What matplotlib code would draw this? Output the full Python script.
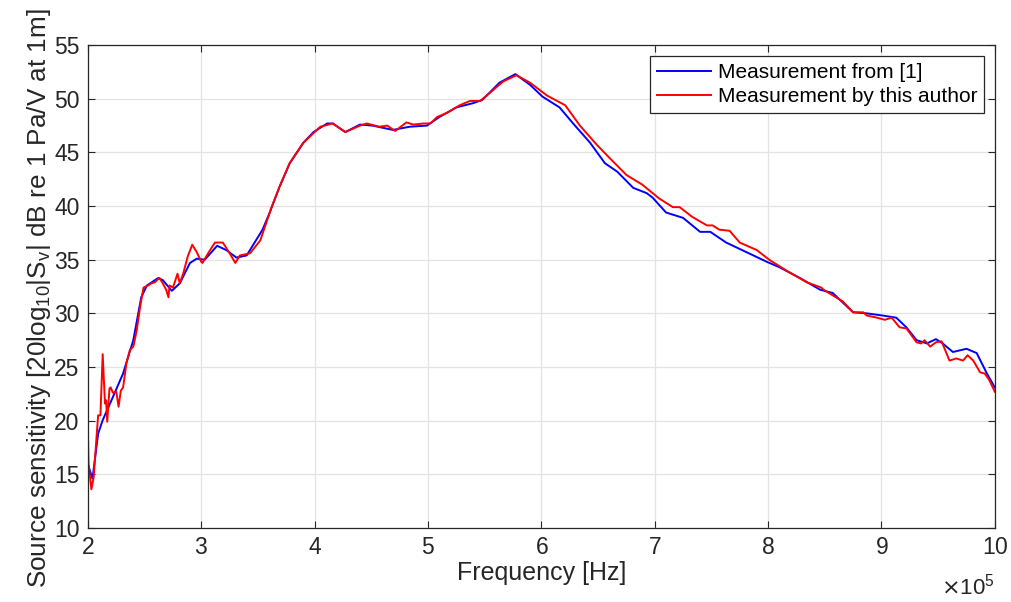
import numpy as np
import matplotlib
matplotlib.use("Agg")
import matplotlib.pyplot as plt

# frequency in kHz, sensitivity in dB
blue_f = [200, 204, 209, 213, 222, 231, 240, 247, 252, 262, 266, 274, 281, 290, 296,
          303, 314, 322, 331, 340, 354, 360, 369, 378, 390, 399, 411, 416, 427, 440,
          451, 469, 484, 499, 510, 525, 540, 548, 563, 577, 590, 601, 616, 628, 643,
          656, 667, 681, 693, 698, 710, 725, 740, 749, 763, 781, 799, 810, 828, 846,
          857, 875, 887, 901, 913, 922, 931, 940, 948, 954, 963, 975, 984, 993, 1000]
blue_v = [15.9, 14.6, 18.8, 20.05, 22.2, 24.4, 27.5, 31.5, 32.6, 33.3, 33.1, 32.1, 32.8, 34.7, 35.1,
          35.0, 36.3, 35.9, 35.2, 35.4, 37.8, 39.3, 41.8, 44.0, 45.9, 46.9, 47.7, 47.7, 46.9, 47.6,
          47.5, 47.1, 47.4, 47.5, 48.3, 49.2, 49.6, 49.9, 51.5, 52.3, 51.3, 50.2, 49.2, 47.7, 45.9,
          44.0, 43.2, 41.7, 41.2, 40.8, 39.4, 38.9, 37.6, 37.6, 36.6, 35.7, 34.8, 34.3, 33.3, 32.2,
          31.9, 30.1, 30.0, 29.8, 29.6, 28.7, 27.5, 27.2, 27.6, 27.2, 26.4, 26.7, 26.3, 24.4, 23.1]

red_f = [200, 200.5, 203, 205, 208, 209, 211, 213, 215, 216, 217, 219, 220, 222, 225,
         227, 229, 231, 234, 237, 240, 243, 246, 249, 253, 256, 259, 263, 266, 269,
         271, 272, 275, 279, 281, 284, 288, 292, 296, 300, 301, 306, 312, 319, 325,
         330, 334, 343, 352, 362, 369, 378, 390, 405,
         416, 427, 440, 446, 457, 464, 471, 481, 487, 496, 502, 508, 517, 528, 537, 546, 554, 566, 578,
         590, 605, 621, 634, 649, 660, 675, 689, 704, 716, 722, 733, 746, 751, 757, 766, 775, 790, 801,
         816, 834, 847, 849, 866, 875, 884, 887, 896, 903, 909, 916, 922, 931, 935, 938, 943, 948,
         953, 960, 966, 972, 976, 981, 987, 991, 995, 1000]
red_v = [18.7, 16.0, 13.6, 14.7, 19.1, 20.5, 20.5, 26.2, 21.6, 21.9, 19.9, 23.0, 23.1, 22.6, 22.7,
         21.3, 22.8, 23.1, 25.4, 26.6, 26.9, 28.4, 30.6, 32.4, 32.6, 32.8, 32.9, 33.3, 32.8, 32.2,
         31.5, 32.6, 32.4, 33.7, 32.8, 33.7, 35.3, 36.4, 35.7, 34.8, 34.7, 35.6, 36.6, 36.6, 35.6,
         34.7, 35.4, 35.6, 36.8, 39.9, 41.8, 44.0, 45.9, 47.4,
         47.7, 46.9, 47.5, 47.7, 47.4, 47.5, 47.0, 47.8, 47.6, 47.7, 47.7, 48.3, 48.7, 49.4, 49.8, 49.8, 50.5, 51.6, 52.2,
         51.5, 50.3, 49.4, 47.5, 45.7, 44.5, 42.9, 42.0, 40.7, 39.9, 39.9, 39.0, 38.2, 38.2, 37.8, 37.7, 36.6, 35.9, 35.0,
         34.0, 32.9, 32.4, 32.2, 31.1, 30.1, 30.1, 29.8, 29.6, 29.4, 29.6, 28.7, 28.6, 27.3, 27.2, 27.5, 26.9, 27.3,
         27.4, 25.6, 25.8, 25.6, 26.1, 25.6, 24.5, 24.4, 23.8, 22.7]

labels = ["Measurement from [1]", "Measurement by this author"]

plt.rcParams['font.family'] = ['Liberation Sans', 'DejaVu Sans']

fig = plt.figure(figsize=(10.11, 6.02), dpi=100)
ax = fig.add_axes([0.087, 0.123, 0.897, 0.802])

ax.plot(np.array(blue_f) * 1e3, blue_v, color='#0000ff', lw=1.4, label=labels[0])
ax.plot(np.array(red_f) * 1e3, red_v, color='#ff0000', lw=1.4, label=labels[1])

ax.set_xlim(2e5, 1e6)
ax.set_ylim(10, 55)
ax.set_xticks(np.arange(2e5, 1.01e6, 1e5))
ax.set_yticks(np.arange(10, 56, 5))
ax.ticklabel_format(axis='x', style='sci', scilimits=(5, 5), useMathText=True)
ax.xaxis.get_offset_text().set_fontsize(16)
ax.xaxis.get_offset_text().set_color('#262626')
ax.xaxis.OFFSETTEXTPAD = 10

ax.grid(True, color='#e3e3e3', lw=0.9)
ax.set_axisbelow(True)
ax.tick_params(direction='in', length=5, labelsize=16.5, colors='#262626',
               top=True, right=True, pad=6)
for s in ax.spines.values():
    s.set_color('#262626')
    s.set_linewidth(0.9)

ax.set_xlabel('Frequency [Hz]', fontsize=18, color='#262626', labelpad=1)
ax.set_ylabel('Source sensitivity [20log$\\mathregular{_{10}}$|S$\\mathregular{_v}$| dB re 1 Pa/V at 1m]',
              fontsize=18.8, color='#262626', labelpad=4)
ax.yaxis.set_label_coords(-0.038, 0.475)

leg = ax.legend(loc='upper right', fontsize=15, frameon=True, fancybox=False,
                edgecolor='#262626', framealpha=1, borderpad=0.35, handlelength=2.6,
                handletextpad=0.3, labelspacing=0.25, borderaxespad=0.5)
leg.get_frame().set_linewidth(0.9)

fig.savefig('out.png', dpi=100)
